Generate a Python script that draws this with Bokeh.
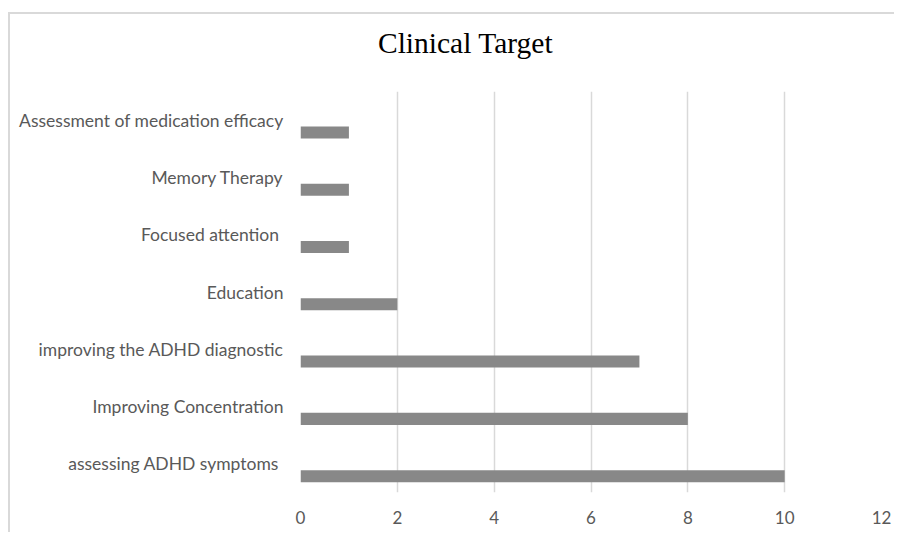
from bokeh.plotting import figure
from bokeh.models import Range1d, FactorRange, SingleIntervalTicker, Div
from bokeh.layouts import column
from bokeh.transform import dodge
from bokeh.embed import file_html
from bokeh.resources import INLINE

categories = [
    "assessing ADHD symptoms ",
    "Improving Concentration",
    "improving the ADHD diagnostic",
    "Education",
    "Focused attention ",
    "Memory Therapy",
    "Assessment of medication efficacy",
]
counts = [10, 8, 7, 2, 1, 1, 1]
chart_title = "Clinical Target"
x_ticks_interval = 2
x_max = 12

title_div = Div(
    text=chart_title, width=884, height=50, margin=0,
    styles={"font-family": "Liberation Serif", "font-size": "29.5px", "line-height": "34px",
            "color": "#000000", "padding-left": "368px", "padding-top": "12px",
            "box-sizing": "border-box", "background": "white"},
)

p = figure(
    width=884, height=468,
    y_range=FactorRange(factors=categories, range_padding=0),
    x_range=Range1d(0, x_max),
    output_backend="svg", toolbar_location=None, margin=0,
    min_border_left=290, min_border_right=13, min_border_top=27, min_border_bottom=40,
)

p.hbar(y=dodge("cat", -0.215, range=p.y_range), right="val", left=0, height=0.21,
       source=dict(cat=categories, val=counts), color="#888888", line_color=None)

p.outline_line_color = None
p.background_fill_color = "white"
p.border_fill_color = "white"

p.xgrid.grid_line_color = "#d9d9d9"
p.xgrid.grid_line_width = 1.5
p.ygrid.grid_line_color = None

p.xaxis.ticker = SingleIntervalTicker(interval=x_ticks_interval)
p.xaxis.axis_line_color = None
p.xaxis.major_tick_line_color = None
p.xaxis.minor_tick_line_color = None
p.xaxis.major_label_text_font = "Lato"
p.xaxis.major_label_text_font_size = "17px"
p.xaxis.major_label_text_color = "#595959"
p.xaxis.major_label_standoff = 12

p.yaxis.axis_line_color = None
p.yaxis.major_tick_line_color = None
p.yaxis.major_tick_out = 0
p.yaxis.minor_tick_line_color = None
p.yaxis.major_label_text_font = "Lato"
p.yaxis.major_label_text_font_size = "17.5px"
p.yaxis.major_label_text_color = "#595959"
p.yaxis.major_label_standoff = 17

layout = column(title_div, p, spacing=0)
layout.styles = {"margin-left": "8px", "margin-top": "12px",
                 "border-top": "2px solid #d9d9d9", "border-left": "2px solid #d9d9d9"}

open("out.html", "w").write(file_html(layout, INLINE))
